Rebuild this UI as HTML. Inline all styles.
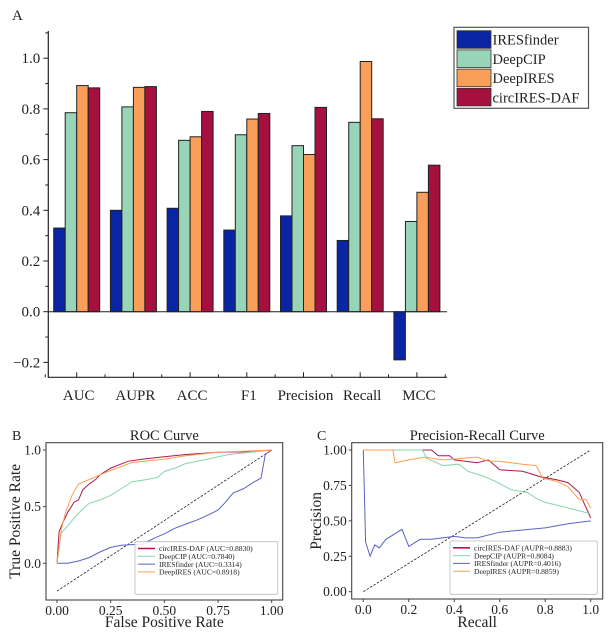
<!DOCTYPE html>
<html><head><meta charset="utf-8"><style>
html,body{margin:0;padding:0;background:#fff;}
svg{display:block;font-family:"Liberation Serif",serif;}
</style></head><body>
<svg id="fig" width="615" height="633" viewBox="0 0 615 633" xmlns="http://www.w3.org/2000/svg">
<rect width="615" height="633" fill="#fff"/>
<g id="pa"></g>
<g id="pb"></g>
<g id="pc"></g>
</svg>
<script>
// ---------- Panel A data ----------
const categories = ["AUC","AUPR","ACC","F1","Precision","Recall","MCC"];
const seriesNames = ["IRESfinder","DeepCIP","DeepIRES","circIRES-DAF"];
const iresfinderVals = [0.330,0.400,0.408,0.322,0.378,0.281,-0.190];
const deepcipVals = [0.785,0.808,0.676,0.698,0.655,0.747,0.356];
const deepiresVals = [0.892,0.885,0.690,0.760,0.620,0.987,0.471];
const circVals = [0.883,0.888,0.790,0.782,0.806,0.761,0.578];
const yTicksA = [-0.2,0.0,0.2,0.4,0.6,0.8,1.0];
const barColors = ["#0a25a3","#98d4b8","#f99f5a","#a5103f"];

// ---------- Panel B data (ROC) ----------
const rocCircX = [0,0.01,0.03,0.05,0.08,0.10,0.12,0.15,0.18,0.20,0.25,0.33,0.40,0.50,0.60,0.75,0.90,1];
const rocCircY = [0,0.28,0.37,0.45,0.54,0.56,0.65,0.70,0.74,0.78,0.84,0.90,0.92,0.94,0.96,0.98,0.985,1];
const rocCipX = [0,0.02,0.05,0.08,0.12,0.15,0.20,0.25,0.30,0.35,0.42,0.47,0.50,0.55,0.60,0.70,0.80,1];
const rocCipY = [0,0.27,0.33,0.40,0.48,0.53,0.56,0.60,0.66,0.72,0.74,0.76,0.81,0.84,0.88,0.92,0.96,1];
const rocIresX = [0,0.05,0.10,0.15,0.20,0.25,0.30,0.40,0.45,0.50,0.55,0.62,0.65,0.72,0.75,0.78,0.82,0.87,0.92,0.95,0.97,1];
const rocIresY = [0,0.00,0.02,0.05,0.10,0.14,0.16,0.17,0.22,0.26,0.31,0.36,0.38,0.44,0.47,0.53,0.62,0.66,0.72,0.75,0.96,1];
const rocDeepX = [0,0.02,0.04,0.07,0.10,0.15,0.20,0.25,0.35,0.50,0.60,0.75,1];
const rocDeepY = [0,0.30,0.45,0.60,0.70,0.74,0.78,0.82,0.89,0.92,0.95,0.98,1];
const rocTicksX = [0,0.25,0.5,0.75,1.0];
const rocTickLabelsX = ["0.00","0.25","0.50","0.75","1.00"];
const rocTicksY = [0,0.5,1.0];
const rocLegend = ["circIRES-DAF (AUC=0.8830)","DeepCIP (AUC=0.7840)","IRESfinder (AUC=0.3314)","DeepIRES (AUC=0.8918)"];

// ---------- Panel C data (PR) ----------
const prCircX = [0,0.30,0.33,0.38,0.40,0.50,0.55,0.60,0.70,0.78,0.85,0.90,0.95,1];
const prCircY = [1,1,0.96,0.96,0.93,0.91,0.93,0.86,0.85,0.81,0.79,0.77,0.70,0.52];
const prCipX = [0,0.26,0.28,0.35,0.42,0.46,0.52,0.58,0.65,0.72,0.77,0.80,0.88,0.95,1];
const prCipY = [1,1,0.94,0.89,0.90,0.85,0.82,0.78,0.72,0.70,0.65,0.63,0.60,0.57,0.55];
const prIresX = [0,0.01,0.03,0.05,0.07,0.10,0.15,0.17,0.20,0.25,0.30,0.40,0.45,0.50,0.60,0.80,0.90,1];
const prIresY = [1,0.35,0.25,0.33,0.31,0.37,0.42,0.44,0.32,0.37,0.37,0.39,0.38,0.38,0.42,0.45,0.48,0.50];
const prDeepX = [0,0.13,0.14,0.20,0.27,0.35,0.50,0.55,0.60,0.70,0.76,0.79,0.85,0.90,0.95,0.98,1];
const prDeepY = [1,1,0.91,0.93,0.95,0.93,0.95,0.92,0.92,0.90,0.89,0.80,0.78,0.74,0.65,0.65,0.59];
const prTicksX = [0,0.2,0.4,0.6,0.8,1.0];
const prTickLabelsX = ["0.0","0.2","0.4","0.6","0.8","1.0"];
const prTicksY = [0,0.25,0.5,0.75,1.0];
const prTickLabelsY = ["0.00","0.25","0.50","0.75","1.00"];
const prLegend = ["circIRES-DAF (AUPR=0.8883)","DeepCIP (AUPR=0.8084)","IRESfinder (AUPR=0.4016)","DeepIRES (AUPR=0.8859)"];

const lineColors = ["#b0184c","#86d6ab","#5a62c2","#f9a050"];
const NS = "http://www.w3.org/2000/svg";
function mk(parent, tag, attrs, text){
  const e = document.createElementNS(NS, tag);
  for (const k in attrs) e.setAttribute(k, attrs[k]);
  if (text !== undefined) e.textContent = text;
  parent.appendChild(e);
  return e;
}

// ---------- Panel A ----------
(function(){
  const g = document.getElementById('pa');
  const x0 = 48.3, x1 = 447, yTop = 31, yBot = 377.3;
  const zeroY = 311.7, perUnit = 253.5;
  const yA = v => zeroY - v * perUnit;
  const step = 56.7, first = 76.7;
  const cx = i => first + i * step;
  const bw = 11.5;
  let t = mk(g,'text',{x:12,y:20,'font-size':15,fill:'#222'},'A');
   
  const all = [iresfinderVals, deepcipVals, deepiresVals, circVals];
  categories.forEach((c,i)=>{
    all.forEach((vals,s)=>{
      const v = vals[i];
      const y = Math.min(yA(v), zeroY), h = Math.abs(yA(v)-zeroY);
      const r = mk(g,'rect',{x:cx(i)-2*bw+s*bw,y:y,width:bw,height:h,fill:barColors[s],stroke:'#222','stroke-width':1});
      
      
    });
    const tl = mk(g,'text',{x:cx(i)+2,y:400,'font-size':15,'text-anchor':'middle',fill:'#222'},c);
     
    mk(g,'line',{x1:cx(i),x2:cx(i),y1:yBot,y2:yBot-5,stroke:'#222','stroke-width':1});
    mk(g,'line',{x1:cx(i)+step/2,x2:cx(i)+step/2,y1:yBot,y2:yBot-3,stroke:'#222','stroke-width':1});
  });
  mk(g,'line',{x1:x0-3,x2:x0-3,y1:yBot,y2:yBot-3,stroke:'#222'});
  mk(g,'line',{x1:x0,x2:x1,y1:zeroY,y2:zeroY,stroke:'#222','stroke-width':1});
  const ax = mk(g,'path',{d:`M${x0},${yTop} V${yBot} H${x1}`,fill:'none',stroke:'#222','stroke-width':1.2});
   
  yTicksA.forEach(v=>{
    mk(g,'line',{x1:x0-5,x2:x0,y1:yA(v),y2:yA(v),stroke:'#222'});
    mk(g,'line',{x1:x0-3,x2:x0,y1:yA(v+0.1),y2:yA(v+0.1),stroke:'#222'});
    const tl = mk(g,'text',{x:x0-8,y:yA(v)+5,'font-size':15,'text-anchor':'end',fill:'#222'},(v<0?'\u2212':'')+Math.abs(v).toFixed(1));
     
  });
  const lg = mk(g,'g',{});
   
  mk(lg,'rect',{x:454,y:27.3,width:134.5,height:81,fill:'#fff',stroke:'#555','stroke-width':1.2});
  seriesNames.forEach((n,s)=>{
    const y = 30.7 + s*19.2;
    const e = mk(lg,'g',{});
     
    mk(e,'rect',{x:457,y:y,width:34,height:17.6,fill:barColors[s],stroke:'#333','stroke-width':0.8});
    mk(e,'text',{x:492.5,y:y+14,'font-size':14.5,fill:'#222'},n);
  });
})();

// ---------- line chart helper ----------
function lineChart(gid, cfg){
  const g = document.getElementById(gid);
  const xs = v => cfg.xa + v*(cfg.xb-cfg.xa);
  const ys = v => cfg.y0 + v*(cfg.y1-cfg.y0);
  let t = mk(g,'text',{x:cfg.letterX,y:440,'font-size':14,fill:'#222'},cfg.letter);
   
  t = mk(g,'text',{x:(cfg.bx0+cfg.bx1)/2,y:440,'font-size':14.5,'text-anchor':'middle',fill:'#222'},cfg.title);
   
  const d = mk(g,'line',{x1:xs(cfg.diag[0]),y1:ys(cfg.diag[1]),x2:xs(1),y2:ys(1),stroke:'#222','stroke-width':0.8,'stroke-dasharray':'2.5,1.5'});
   
  const names = ['circires-daf','deepcip','iresfinder','deepires'];
  cfg.series.forEach((s,k)=>{
    const pts = s[0].map((x,i)=>xs(x).toFixed(1)+','+ys(s[1][i]).toFixed(1)).join(' ');
    const p = mk(g,'polyline',{points:pts,fill:'none',stroke:lineColors[k],'stroke-width':1});
     
  });
  const b = mk(g,'rect',{x:cfg.bx0,y:442.7,width:cfg.bx1-cfg.bx0,height:cfg.by1-442.7,fill:'none',stroke:'#444','stroke-width':1.1});
   
  cfg.tx.forEach((v,i)=>{
    mk(g,'line',{x1:xs(v),x2:xs(v),y1:cfg.by1,y2:cfg.by1+3,stroke:'#444'});
    const tl = mk(g,'text',{x:xs(v),y:cfg.by1+15,'font-size':13.5,'text-anchor':'middle',fill:'#222'},cfg.txl[i]);
     
  });
  cfg.ty.forEach((v,i)=>{
    mk(g,'line',{x1:cfg.bx0-3,x2:cfg.bx0,y1:ys(v),y2:ys(v),stroke:'#444'});
    const tl = mk(g,'text',{x:cfg.bx0-5,y:ys(v)+4.5,'font-size':13.5,'text-anchor':'end',fill:'#222'},cfg.tyl[i]);
     
  });
  t = mk(g,'text',{x:(cfg.bx0+cfg.bx1)/2,y:627,'font-size':15.5,'text-anchor':'middle',fill:'#222'},cfg.xl);
   
  const yc = (442.7+cfg.by1)/2;
  t = mk(g,'text',{x:cfg.ylx,y:yc,'font-size':15.5,'text-anchor':'middle',fill:'#222',transform:`rotate(-90 ${cfg.ylx} ${yc})`},cfg.yl);
   
  const lg = mk(g,'g',{});
   
  mk(lg,'rect',{x:cfg.lx0,y:cfg.ly0,width:cfg.lx1-cfg.lx0,height:594.3-cfg.ly0,fill:'#fff','fill-opacity':0.85,stroke:'#bbb','stroke-width':0.8,rx:1.5});
  cfg.legend.forEach((txt,k)=>{
    const y = cfg.ly0 + 6.8 + k*7.8;
    const e = mk(lg,'g',{});
     
    mk(e,'line',{x1:cfg.lx0+3,x2:cfg.lx0+20,y1:y,y2:y,stroke:lineColors[k],'stroke-width':k==0?1.6:1});
    mk(e,'text',{x:cfg.lx0+24,y:y+2.7,'font-size':7.6,fill:'#222'},txt);
  });
}

lineChart('pb',{letter:'B',letterX:12,title:'ROC Curve',xa:57,xb:271.7,y0:563.3,y1:450,
  bx0:46,bx1:282.7,by1:600,diag:[0,-0.245],
  series:[[rocCircX,rocCircY],[rocCipX,rocCipY],[rocIresX,rocIresY],[rocDeepX,rocDeepY]],
  tx:rocTicksX,txl:rocTickLabelsX,ty:rocTicksY,tyl:rocTicksY.map(v=>v.toFixed(1)),
  xl:'False Positive Rate',yl:'True Positive Rate',ylx:20,
  lx0:135,lx1:277.7,ly0:541.7,legend:rocLegend});

lineChart('pc',{letter:'C',letterX:317,title:'Precision-Recall Curve',xa:363.3,xb:590.7,y0:591.7,y1:450,
  bx0:351.7,bx1:602.7,by1:599,diag:[0,0],
  series:[[prCircX,prCircY],[prCipX,prCipY],[prIresX,prIresY],[prDeepX,prDeepY]],
  tx:prTicksX,txl:prTickLabelsX,ty:prTicksY,tyl:prTickLabelsY,
  xl:'Recall',yl:'Precision',ylx:321,
  lx0:450,lx1:597.3,ly0:541,legend:prLegend});
</script>
</body></html>
